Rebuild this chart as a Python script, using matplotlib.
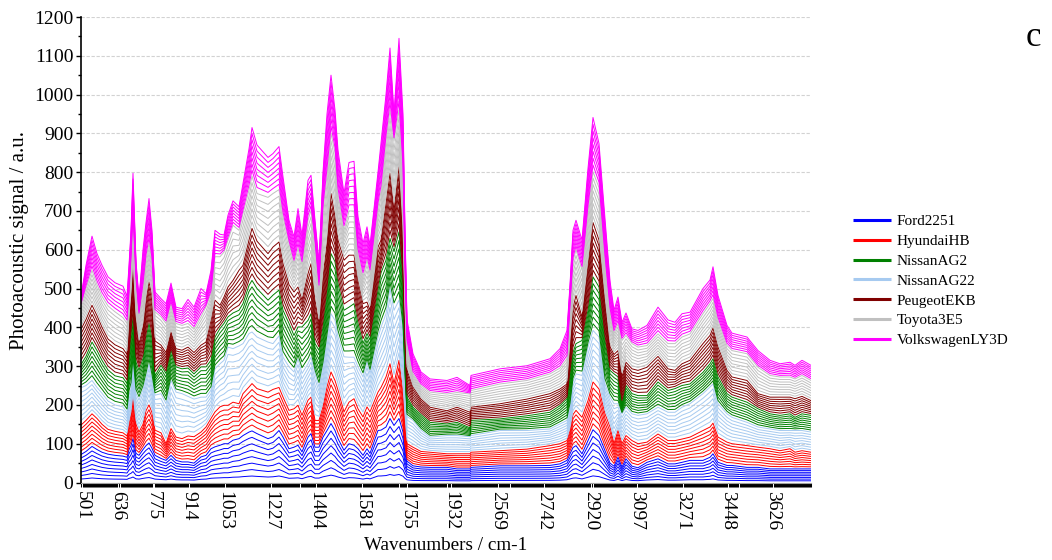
import numpy as np
import matplotlib
matplotlib.use('Agg')
import matplotlib.pyplot as plt
from matplotlib.lines import Line2D

plt.rcParams['font.family'] = ['Liberation Serif', 'DejaVu Sans']

# spectrometer channel of every reading (1 channel ~ 3.86 cm-1, 2000-2500 cut out)
chan = [0,5,11,16,21,27,34,42,46,48,50,52,55,58,62,65,68,71,74,80,85,90,95,101,107,113,120,125,130,134,139,143,147,152,158,162,168,171,176,187,192,198,202,208,213,217,221,227,230,234,238,242,246,250,254,257,263,268,273,277,282,286,289,297,300,305,309,313,318,322,324,326,332,340,349,366,376,389,390,419,446,469,479,486,489,492,495,501,507,512,518,524,529,533,537,541,545,551,557,566,577,587,594,601,609,622,629,632,637,646,651,666,677,689,699,709,714,721,730]

# signal of the uppermost trace of each car, stacked from the bottom up
ford_top = [72,80,93,85,78,73,70,68,65,85,95,113,75,70,85,95,102,88,70,62,57,70,57,53,53,50,
            66,70,87,92,96,100,100,109,113,121,130,133,126,113,118,134,117,87,91,96,79,117,126,91,91,117,134,152,134,113,83,100,96,87,70,87,75,134,135,143,165,147,
            165,130,85,55,43,40,39,39,35,35,39,43,43,44,48,57,74,90,95,74,108,136,121,82,50,42,65,40,61,42,38,52,61,48,48,52,57,57,65,74,52,44,44,39,39,35,35,35,35,35,35]
hyundai_top = [148,160,177,165,150,137,132,128,120,150,175,220,150,130,150,185,200,180,135,128,100,139,117,113,120,118,
               130,143,165,182,195,199,199,207,203,229,246,255,242,233,240,245,220,186,190,199,173,212,220,160,160,195,246,285,263,238,182,207,216,190,169,195,182,233,245,272,306,255,
               315,230,160,100,91,80,78,74,74,74,78,82,86,95,100,108,134,175,186,168,211,259,241,177,143,100,134,100,121,108,100,104,125,108,108,112,117,134,143,153,117,104,100,95,91,87,82,87,78,82,78]
ag22_top = [244,250,263,245,230,210,200,195,180,225,240,310,230,212,240,270,306,265,225,229,203,263,233,229,222,215,
            220,220,238,293,306,315,349,345,352,358,384,388,375,362,358,378,323,298,285,319,281,306,323,281,246,298,367,435,418,375,324,323,323,298,272,311,281,375,400,435,500,444,
            470,390,270,170,160,135,117,121,121,118,121,134,134,138,151,160,194,260,280,276,349,392,375,254,220,203,203,177,194,177,173,177,194,181,181,194,203,229,246,254,203,177,168,155,143,138,134,134,134,134,130]
ag2_top = [304,325,362,340,315,290,275,270,255,320,380,427,310,289,320,370,410,370,275,302,281,341,298,293,295,280,
           298,298,315,375,397,410,427,437,444,461,508,521,500,470,483,496,444,410,379,401,401,418,435,358,341,401,487,590,569,513,444,452,461,410,358,384,367,496,540,573,629,595,
           646,520,350,220,194,175,155,151,155,141,160,164,172,181,198,216,280,335,358,366,444,530,504,366,289,280,272,203,250,229,224,224,259,237,242,250,254,284,306,319,272,229,220,207,190,177,173,177,168,177,173]
peugeot_top = [395,420,457,430,400,370,355,345,330,420,480,564,420,358,400,470,517,480,365,354,335,388,345,341,349,335,
               354,362,418,470,457,478,504,521,547,560,625,655,622,590,607,620,564,510,491,504,470,538,564,470,410,530,616,745,685,625,573,586,586,521,461,465,444,607,625,719,797,700,
               814,640,440,290,246,215,194,185,194,181,194,203,215,229,241,254,360,450,482,426,560,670,625,470,350,330,340,272,310,293,289,297,325,293,289,306,315,358,379,398,349,289,272,263,229,220,220,220,216,222,211]
toyota_top = [458,500,547,510,480,455,440,425,410,480,570,680,520,431,500,575,616,570,440,427,410,461,410,405,410,395,
              427,453,487,582,582,594,625,663,650,693,754,790,745,735,745,755,685,616,564,603,560,676,702,616,500,702,790,900,850,745,650,700,700,590,530,573,539,710,750,880,960,880,
              960,800,540,360,280,250,233,228,232,228,237,254,263,280,295,319,450,570,600,547,700,801,760,570,440,384,409,366,379,358,349,353,383,358,358,375,383,435,461,474,418,353,340,332,297,276,272,272,267,276,263]
vw_top = [480,560,635,590,560,530,515,506,480,560,650,797,570,474,600,670,732,650,491,474,461,514,452,448,472,452,
          500,487,547,650,640,638,689,726,711,771,860,915,870,838,848,866,788,676,633,706,637,779,792,676,569,800,950,1050,960,857,745,825,828,685,616,659,612,800,875,1000,1120,950,
          1145,950,650,420,332,285,267,263,271,250,276,293,301,319,345,392,510,650,676,625,810,941,874,680,520,444,478,413,437,396,392,405,452,419,413,435,439,500,522,556,482,405,385,375,340,315,306,310,302,315,302]

stack_tops = [ford_top, hyundai_top, ag22_top, ag2_top, peugeot_top, toyota_top, vw_top]
stack_names = ['Ford2251', 'HyundaiHB', 'NissanAG22', 'NissanAG2', 'PeugeotEKB', 'Toyota3E5', 'VolkswagenLY3D']
stack_colors = ['#0000ff', '#ff0000', '#a6caf0', '#008000', '#800000', '#c0c0c0', '#ff00ff']
n_samples = 8

legend_order = ['Ford2251', 'HyundaiHB', 'NissanAG2', 'NissanAG22', 'PeugeotEKB', 'Toyota3E5', 'VolkswagenLY3D']

tick_labels = ['501','636','775','914','1053','1227','1404','1581','1755','1932','2569','2742','2920','3097','3271','3448','3626']
tick_chan = [1,37,72,108,144,190,235,281,326,370,417,463,510,556,602,647,692]
# channels where the black tick band has a small hole
band_holes = [39,73,219,318,366,429,512,658]

fig = plt.figure(figsize=(10.52, 5.60), dpi=100)
ax = fig.add_axes([81/1052, 1 - 482.5/560, 730/1052, 465.5/560])

# each car is 8 spectra stacked on top of the previous ones
below = np.zeros(len(chan))
handles = {}
for tops, name, col in zip(stack_tops, stack_names, stack_colors):
    tops = np.array(tops, dtype=float)
    step = (tops - below)/n_samples
    for i in range(1, n_samples + 1):
        ax.plot(chan, below + step*i, color=col, lw=0.7, solid_joinstyle='round')
    handles[name] = Line2D([], [], color=col, lw=2.2, solid_capstyle='butt')
    below = tops

ax.set_xlim(0, 730)
ax.set_ylim(0, 1200)

ax.spines['top'].set_visible(False)
ax.spines['right'].set_visible(False)
ax.spines['left'].set_linewidth(1.2)
ax.spines['bottom'].set_color('#a0a0a0')
ax.spines['bottom'].set_linewidth(0.8)

ax.set_yticks(np.arange(0, 1201, 100))
ax.set_yticks(np.arange(50, 1200, 100), minor=True)
ax.tick_params(axis='y', which='major', length=3.5, width=1, labelsize=14, pad=2)
ax.tick_params(axis='y', which='minor', length=2.5, width=1)
ax.yaxis.grid(True, which='major', color='#d2d2d2', lw=0.8, ls=(0, (3, 1.5)))
ax.set_axisbelow(True)

ax.set_xticks(tick_chan)
ax.set_xticklabels(tick_labels, rotation=270, ha='center', va='top')
ax.set_xticks([c for c in range(731) if c not in band_holes], minor=True)
ax.tick_params(axis='x', which='major', length=0, labelsize=14, pad=6)
ax.tick_params(axis='x', which='minor', length=2.9, width=0.75, color='k')

fig.text(446/1052, 1 - 545/560, 'Wavenumbers / cm-1', fontsize=13.8, ha='center', va='center')
fig.text(20/1052, 1 - 240/560, 'Photoacoustic signal / a.u.', fontsize=15, rotation=90, ha='center', va='center')
fig.text(1033/1052, 1 - 38/560, 'c', fontsize=25, ha='center', va='center')

fig.legend([handles[n] for n in legend_order], legend_order,
           loc='center left', bbox_to_anchor=(853/1052, 1 - 281/560), frameon=False,
           fontsize=11, labelspacing=0.4, handlelength=2.48, handletextpad=0.4, borderpad=0, borderaxespad=0)

fig.savefig('out.png', dpi=100)
